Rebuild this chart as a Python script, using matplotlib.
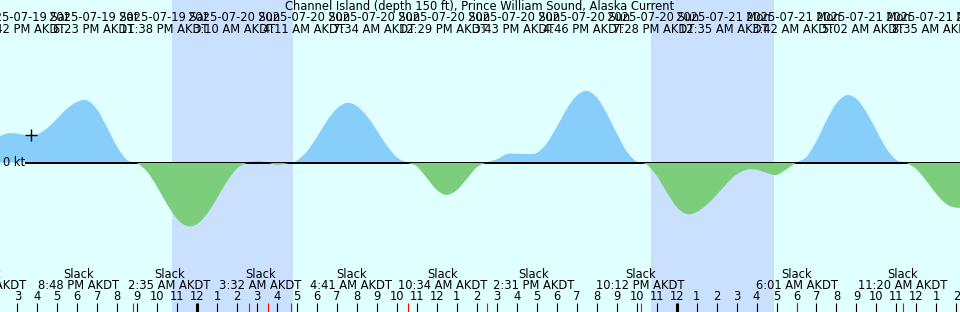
import matplotlib
matplotlib.use('Agg')
import matplotlib.pyplot as plt
from matplotlib.path import Path
from matplotlib.patches import PathPatch, Rectangle
import numpy as np
import pandas as pd

# XTide style current graph, 48 h window
title = "Channel Island (depth 150 ft), Prince William Sound, Alaska Current"
window_start = "2025-07-19 14:08"
window_end = "2025-07-21 14:11"

# current speed in knots (flood +, ebb -), one sample every 30 minutes
sample_start = "2025-07-19 14:00"
speed_kt = [
    0.63, 0.73, 0.72, 0.68, 0.70, 0.86, 1.10, 1.35, 1.52, 1.55,
    1.32, 0.87, 0.39, 0.06, -0.02, -0.23, -0.61, -1.05, -1.41, -1.59,
    -1.54, -1.28, -0.89, -0.47, -0.15, -0.01, 0.04, 0.00, -0.06, -0.02,
    0.05, 0.28, 0.64, 1.04, 1.35, 1.49, 1.41, 1.16, 0.80, 0.42,
    0.13, 0.00, -0.10, -0.39, -0.69, -0.81, -0.69, -0.41, -0.12, 0.00,
    0.08, 0.21, 0.22, 0.21, 0.24, 0.48, 0.89, 1.34, 1.67, 1.79,
    1.63, 1.23, 0.73, 0.28, 0.02, -0.05, -0.33, -0.74, -1.11, -1.29,
    -1.24, -1.06, -0.81, -0.53, -0.30, -0.18, -0.18, -0.26, -0.31, -0.17,
    0.00, 0.14, 0.54, 1.05, 1.48, 1.68, 1.59, 1.26, 0.80, 0.35,
    0.06, -0.01, -0.17, -0.46, -0.79, -1.04, -1.13, -1.11,
]

# max / min current events (top labels)
extreme_times = [
    "2025-07-19 14:40", "2025-07-19 15:42", "2025-07-19 18:23", "2025-07-19 23:38",
    "2025-07-20 03:10", "2025-07-20 04:11", "2025-07-20 07:34", "2025-07-20 12:29",
    "2025-07-20 15:43", "2025-07-20 16:46", "2025-07-20 19:28", "2025-07-21 00:35",
    "2025-07-21 03:42", "2025-07-21 05:02", "2025-07-21 08:35", "2025-07-21 13:59",
]
# slack water events (bottom labels, red ticks)
slack_times = [
    "2025-07-19 13:24", "2025-07-19 20:48", "2025-07-20 02:35", "2025-07-20 03:32",
    "2025-07-20 04:41", "2025-07-20 10:34", "2025-07-20 14:31", "2025-07-20 22:12",
    "2025-07-21 06:01", "2025-07-21 11:20",
]
sunset_times = ["2025-07-19 22:44", "2025-07-20 22:42"]
sunrise_times = ["2025-07-20 04:49", "2025-07-21 04:52"]
mark_time = "2025-07-19 15:42"

W, H = 960, 312
PX_PER_KT = 40.0
ZERO_ROW = 162.5
FS = 8.3
DAY = '#E0FFFF'
NIGHT = '#CAE0FF'
FLOOD = '#87CEFA'
EBB = '#7CCD7C'

t0 = pd.Timestamp(window_start)


def hrs(s):
    return (pd.Timestamp(s) - t0) / pd.Timedelta(hours=1)


def row(y_px):
    return 1 - y_px / H


def clock(ts):
    ap = 'AM' if ts.hour < 12 else 'PM'
    return f"{ts.hour % 12 or 12}:{ts.minute:02d} {ap} AKDT"


def spread(pos, sep):
    # push labels apart with least movement (pool adjacent violators)
    q = [p - i * sep for i, p in enumerate(pos)]
    blocks = []
    for val in q:
        blocks.append([val, 1])
        while len(blocks) > 1 and blocks[-2][0] / blocks[-2][1] > blocks[-1][0] / blocks[-1][1]:
            s, n = blocks.pop()
            blocks[-1][0] += s
            blocks[-1][1] += n
    out = []
    for s, n in blocks:
        out += [s / n] * n
    return [val + i * sep for i, val in enumerate(out)]


def smooth_area(xs, ys):
    # closed area between the samples and zero, drawn with cubic Bezier pieces
    P = np.column_stack([xs, ys])
    P = np.vstack([2 * P[0] - P[1], P, 2 * P[-1] - P[-2]])
    verts = [P[1]]
    codes = [Path.MOVETO]
    for i in range(1, len(P) - 2):
        c1 = P[i] + (P[i + 1] - P[i - 1]) / 6
        c2 = P[i + 1] - (P[i + 2] - P[i]) / 6
        verts += [c1, c2, P[i + 1]]
        codes += [Path.CURVE4] * 3
    verts += [(xs[-1], 0), (xs[0], 0), (xs[0], 0)]
    codes += [Path.LINETO, Path.LINETO, Path.CLOSEPOLY]
    return Path(verts, codes)


x_end = hrs(window_end)
v = np.array(speed_kt)
x = hrs(sample_start) + 0.5 * np.arange(len(v))

fig = plt.figure(figsize=(W / 100, H / 100), dpi=100, facecolor=DAY)
ax = fig.add_axes([0, 0, 1, 1])
ax.set_xlim(0, x_end)
ax.set_ylim(-(H - ZERO_ROW) / PX_PER_KT, ZERO_ROW / PX_PER_KT)
ax.axis('off')
tr = ax.get_xaxis_transform()

for a, b in zip(sunset_times, sunrise_times):
    ax.axvspan(hrs(a), hrs(b), color=NIGHT, lw=0, zorder=0)

area = smooth_area(x, v)
span = x[-1] - x[0]
flood = PathPatch(area, fc=FLOOD, lw=0, zorder=1)
ax.add_patch(flood)
flood.set_clip_path(Rectangle((x[0], 0), span, 10, transform=ax.transData))
ax.axhline(0, xmin=26 / W, xmax=1, color='black', lw=1.4, zorder=2)
ebb = PathPatch(area, fc=EBB, lw=0, zorder=3)
ax.add_patch(ebb)
ebb.set_clip_path(Rectangle((x[0], -10), span, 10, transform=ax.transData))

xm = hrs(mark_time)
ax.plot([xm], [np.interp(xm, x, v)], marker='+', color='black', ms=9, mew=1, zorder=4)

ax.text(3 / W, 0, "0 kt", transform=ax.get_yaxis_transform(), ha='left', va='center',
        fontsize=FS, zorder=5)
ax.text(0.5, row(6.5), title, transform=ax.transAxes, ha='center', va='center',
        fontsize=FS, zorder=5)

# top labels: date and time of each max / min
ext = [pd.Timestamp(s) for s in extreme_times]
ext_x = spread([hrs(s) for s in ext], 3.5)
for ts, xx in zip(ext, ext_x):
    xx += 1.12
    ax.text(xx, row(17.5), ts.strftime("%Y-%m-%d %a"), transform=tr, ha='center',
            va='center', fontsize=FS, zorder=5)
    ax.text(xx, row(29.5), clock(ts), transform=tr, ha='center', va='center',
            fontsize=FS, zorder=5)

# bottom labels: slack water
sl = [pd.Timestamp(s) for s in slack_times]
sl_x = spread([hrs(s) for s in sl], 4.55)
for ts, xx in zip(sl, sl_x):
    ax.text(xx, row(274), "Slack", transform=tr, ha='center', va='center',
            fontsize=FS, zorder=5)
    ax.text(xx, row(285.5), clock(ts), transform=tr, ha='center', va='center',
            fontsize=FS, zorder=5)

# hour ticks along the bottom
hours = pd.date_range(t0.ceil('h'), pd.Timestamp(window_end), freq='h')
for ts in hours:
    xx = hrs(ts)
    ax.text(xx, row(297), str(ts.hour % 12 or 12), transform=tr, ha='center',
            va='center', fontsize=FS, zorder=5)
    ax.vlines(xx, 0, 9 / H, transform=tr, colors='black',
              lw=2.2 if ts.hour == 0 else 0.8, zorder=5)
ax.vlines([hrs(s) for s in sl], 0, 9 / H, transform=tr, colors='red', lw=0.8, zorder=5)

fig.savefig('out.png', dpi=100, facecolor=DAY)
